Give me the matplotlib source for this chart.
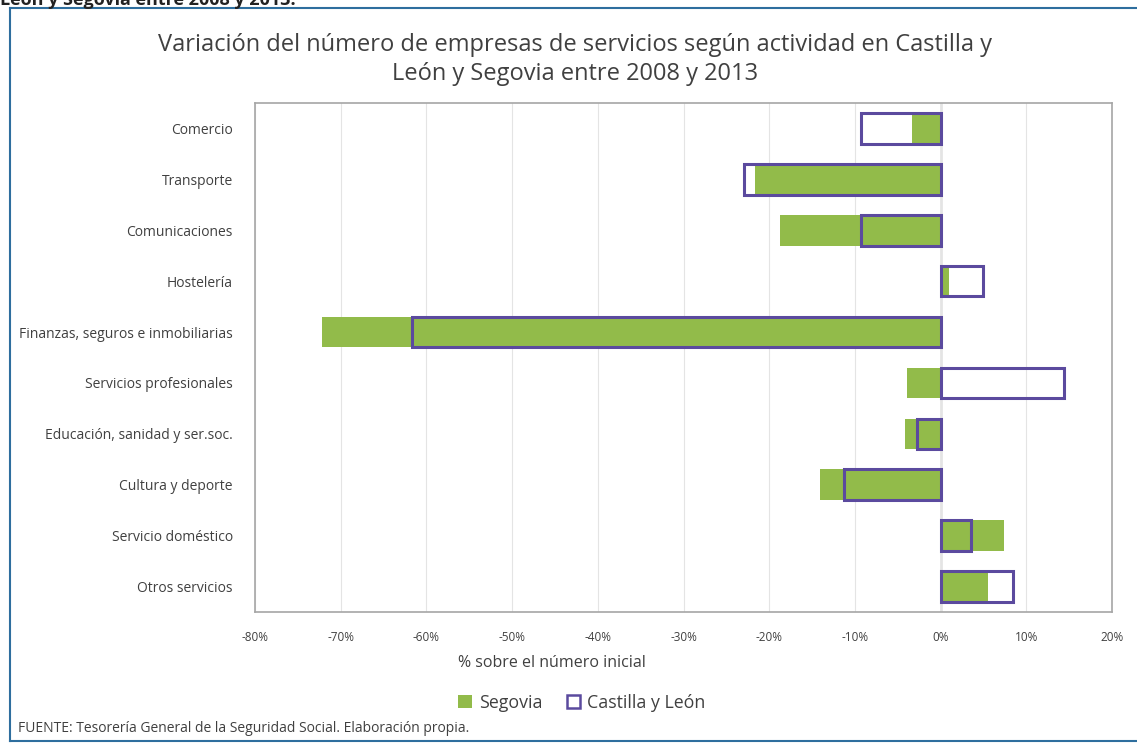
import matplotlib.pyplot as plt
from matplotlib.patches import Patch
from matplotlib.lines import Line2D
from matplotlib.ticker import FuncFormatter

plt.rcParams['font.family'] = ['Open Sans', 'DejaVu Sans']

# Data (% change in number of service companies, 2008-2013)
categories = ['Comercio', 'Transporte', 'Comunicaciones', 'Hostelería',
              'Finanzas, seguros e inmobiliarias', 'Servicios profesionales',
              'Educación, sanidad y ser.soc.', 'Cultura y deporte',
              'Servicio doméstico', 'Otros servicios']
segovia = [-3.3, -21.6, -18.7, 1.0, -72.2, -3.9, -4.1, -14.1, 7.4, 5.5]
castilla_leon = [-9.3, -22.9, -9.3, 5.0, -61.7, 14.4, -2.8, -11.3, 3.5, 8.5]
x_ticks = [-80, -70, -60, -50, -40, -30, -20, -10, 0, 10, 20]

green = '#92BB4A'
purple = '#5B4A9E'
grey_text = '#404040'

fig = plt.figure(figsize=(11.37, 7.46), dpi=100)
W, H = 1137, 746
ax = fig.add_axes([255 / W, 1 - 612 / H, (1112 - 255) / W, (612 - 103) / H])

y = list(range(len(categories)))
ax.barh(y, segovia, height=0.6, color=green, zorder=2)
ax.barh(y, castilla_leon, height=0.6, facecolor='none', edgecolor=purple,
        linewidth=2.2, zorder=3)

ax.set_xlim(-80, 20)
ax.set_ylim(len(categories) - 0.5, -0.5)
ax.set_xticks(x_ticks)
ax.xaxis.set_major_formatter(FuncFormatter(lambda v, p: f'{v:.0f}%'))
ax.set_yticks(y)
ax.set_yticklabels(categories, fontsize=10, color=grey_text)
ax.tick_params(axis='x', labelsize=8.5, colors=grey_text, length=0, pad=14)
ax.tick_params(axis='y', length=0, pad=16)
ax.grid(axis='x', color='#E4E4E4', linewidth=0.8, zorder=0)
ax.axvline(0, color='#8C8C8C', linewidth=1, zorder=1)
for s in ax.spines.values():
    s.set_color('#A6A6A6')
    s.set_linewidth(1.2)

ax.set_xlabel('% sobre el número inicial', fontsize=11.5, color=grey_text)
ax.xaxis.set_label_coords((552 - 255) / (1112 - 255), -(663 - 612) / (612 - 103))
ax.xaxis.label.set_va('center')

fig.text(575 / W, 1 - 45 / H, 'Variación del número de empresas de servicios según actividad en Castilla y',
         ha='center', va='center', fontsize=17, color=grey_text)
fig.text(575 / W, 1 - 74 / H, 'León y Segovia entre 2008 y 2013',
         ha='center', va='center', fontsize=17, color=grey_text)

handles = [Patch(facecolor=green, edgecolor='none', label='Segovia'),
           Patch(facecolor='white', edgecolor=purple, linewidth=1.8, label='Castilla y León')]
fig.legend(handles=handles, loc='center', bbox_to_anchor=(582 / W, 1 - 703 / H), ncol=2,
           frameon=False, fontsize=12.8, handlelength=0.75, handleheight=0.75,
           handletextpad=0.4, columnspacing=1.4, labelcolor=grey_text)

fig.text(18 / W, 1 - 728 / H, 'FUENTE: Tesorería General de la Seguridad Social. Elaboración propia.',
         ha='left', va='center', fontsize=10, color=grey_text)

# partially cut caption above the frame
fig.text(0.0, 1 - 5 / H, 'León y Segovia entre 2008 y 2013.', ha='left', va='baseline',
         fontsize=13, fontweight='bold', color='#222222')

# blue frame around the chart
frame = '#2E6E9E'
fig.add_artist(Line2D([10 / W, 1], [1 - 8 / H, 1 - 8 / H], color=frame, linewidth=1.5))
fig.add_artist(Line2D([10 / W, 1], [1 - 741 / H, 1 - 741 / H], color=frame, linewidth=1.5))
fig.add_artist(Line2D([10 / W, 10 / W], [1 - 8 / H, 1 - 741 / H], color=frame, linewidth=1.5))

fig.savefig('out.png', dpi=100)
